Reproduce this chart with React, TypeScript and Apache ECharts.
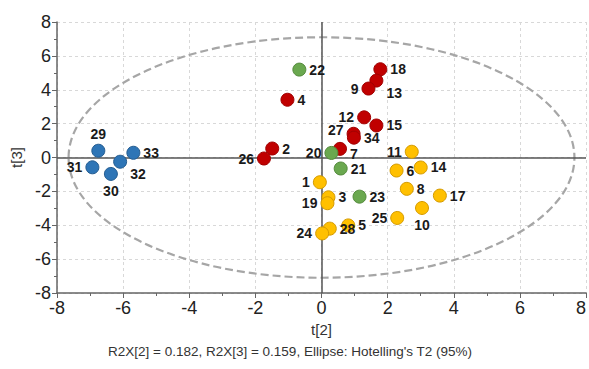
import React, { useEffect, useRef } from "react";
import * as echarts from "echarts";

const blueIds = ["29", "33", "32", "31", "30"];
const blueX = [-6.75, -5.69, -6.09, -6.93, -6.37];
const blueY = [0.40, 0.28, -0.25, -0.58, -0.97];
const bluePos = ["top", "right", "br", "left", "bottom"];

const redIds = ["18", "13", "9", "4", "12", "15", "27", "34", "2", "26", "7"];
const redX = [1.78, 1.66, 1.42, -1.03, 1.29, 1.66, 0.97, 0.98, -1.49, -1.74, 0.56];
const redY = [5.21, 4.54, 4.07, 3.41, 2.37, 1.89, 1.40, 1.17, 0.53, -0.06, 0.51];
const redPos = ["right", "br", "left", "right", "left", "right", "tl", "right", "right", "left", "br7"];

const greenIds = ["22", "20", "21", "23"];
const greenX = [-0.67, 0.30, 0.58, 1.15];
const greenY = [5.19, 0.27, -0.65, -2.31];
const greenPos = ["right", "left", "right", "right"];

const yellowIds = ["11", "6", "14", "1", "3", "19", "8", "17", "10", "25", "5", "28", "24"];
const yellowX = [2.73, 2.27, 3.0, -0.05, 0.21, 0.18, 2.58, 3.58, 3.04, 2.29, 0.81, 0.25, 0.02];
const yellowY = [0.34, -0.77, -0.59, -1.46, -2.35, -2.70, -1.85, -2.25, -2.98, -3.57, -4.01, -4.20, -4.48];
const yellowPos = ["left", "right", "right", "left", "right", "left", "right", "right", "bottom", "left", "right", "right", "left"];

const ellipseRadius = [7.65, 7.1];
const axisTicks = { min: -8, max: 8, interval: 2 };

function labelFor(pos: string) {
  if (pos === "br") return { position: "right", offset: [0, 12] };
  if (pos === "br7") return { position: "right", offset: [0, 5] };
  if (pos === "tl") return { position: "left", offset: [0, -4] };
  return { position: pos };
}

function makeSeries(ids: string[], xs: number[], ys: number[], pos: string[], color: string, border: string) {
  return {
    type: "scatter",
    symbolSize: 13,
    itemStyle: { color, borderColor: border, borderWidth: 1, opacity: 1 },
    label: {
      show: true,
      formatter: (p: any) => p.data.name,
      fontFamily: "Arial, Liberation Sans, sans-serif",
      fontWeight: "bold",
      fontSize: 14,
      color: "#1a1a1a",
      distance: 3,
    },
    data: ids.map((id, i) => ({ name: id, value: [xs[i], ys[i]], label: labelFor(pos[i]) })),
    z: 5,
  };
}

export default function App() {
  const ref = useRef<HTMLDivElement>(null);
  useEffect(() => {
    const chart = echarts.init(ref.current!, null, { renderer: "svg" });
    const font = "Arial, Liberation Sans, sans-serif";
    const axisCommon = {
      type: "value",
      min: axisTicks.min,
      max: axisTicks.max,
      interval: axisTicks.interval,
      nameLocation: "middle",
      nameTextStyle: { fontFamily: font, fontSize: 15, color: "#333" },
      axisLine: { show: true, onZero: false, lineStyle: { color: "#666", width: 1.5 } },
      axisTick: { show: true, length: 5, lineStyle: { color: "#666" } },
      minorTick: { show: true, splitNumber: 2, length: 3, lineStyle: { color: "#666" } },
      splitLine: { show: true, lineStyle: { color: "#d8d8d8", type: [3, 3], width: 1 } },
    };
    const labelCommon = {
      fontFamily: font,
      fontSize: 18,
      color: "#222",
      margin: 6,
      showMinLabel: true,
      showMaxLabel: true,
    };
    chart.setOption({
      animation: false,
      backgroundColor: "#fff",
      grid: {
        left: 57,
        right: 3,
        top: 22,
        bottom: 76,
        outerBoundsMode: "none",
      },
      graphic: [
        {
          type: "text",
          left: 108,
          top: 344,
          style: {
            text: "R2X[2] = 0.182, R2X[3] = 0.159, Ellipse: Hotelling's T2 (95%)",
            font: "13.5px Arial, Liberation Sans, sans-serif",
            fill: "#333",
          },
        },
      ],
      xAxis: {
        ...axisCommon,
        name: "t[2]",
        nameGap: 21,
        axisLabel: { ...labelCommon, alignMaxLabel: "right" },
      },
      yAxis: { ...axisCommon, name: "t[3]", nameGap: 29, axisLabel: labelCommon },
      series: [
        {
          type: "custom",
          silent: true,
          z: 1,
          data: [[0, 0, ellipseRadius[0], ellipseRadius[1]]],
          renderItem: (params: any, api: any) => {
            const c = api.coord([api.value(0), api.value(1)]);
            const s = api.size([api.value(2), api.value(3)]);
            return {
              type: "ellipse",
              shape: { cx: c[0], cy: c[1], rx: s[0], ry: s[1] },
              style: { fill: "none", stroke: "#a6a6a6", lineWidth: 2.2, lineDash: [8, 4] },
            };
          },
        },
        {
          type: "line",
          data: [],
          silent: true,
          markLine: {
            silent: true,
            symbol: "none",
            label: { show: false },
            lineStyle: { color: "#555", type: "solid", width: 1.5 },
            data: [{ xAxis: 0 }, { yAxis: 0 }],
          },
        },
        makeSeries(blueIds, blueX, blueY, bluePos, "#2e75b6", "#245c90"),
        makeSeries(redIds, redX, redY, redPos, "#c00000", "#a00000"),
        makeSeries(greenIds, greenX, greenY, greenPos, "#6aa84f", "#548a3c"),
        makeSeries(yellowIds, yellowX, yellowY, yellowPos, "#ffc000", "#d49a00"),
      ],
    });
    return () => chart.dispose();
  }, []);
  return <div ref={ref} style={{ width: 589, height: 369, position: "absolute", left: 0, top: 0 }} />;
}
